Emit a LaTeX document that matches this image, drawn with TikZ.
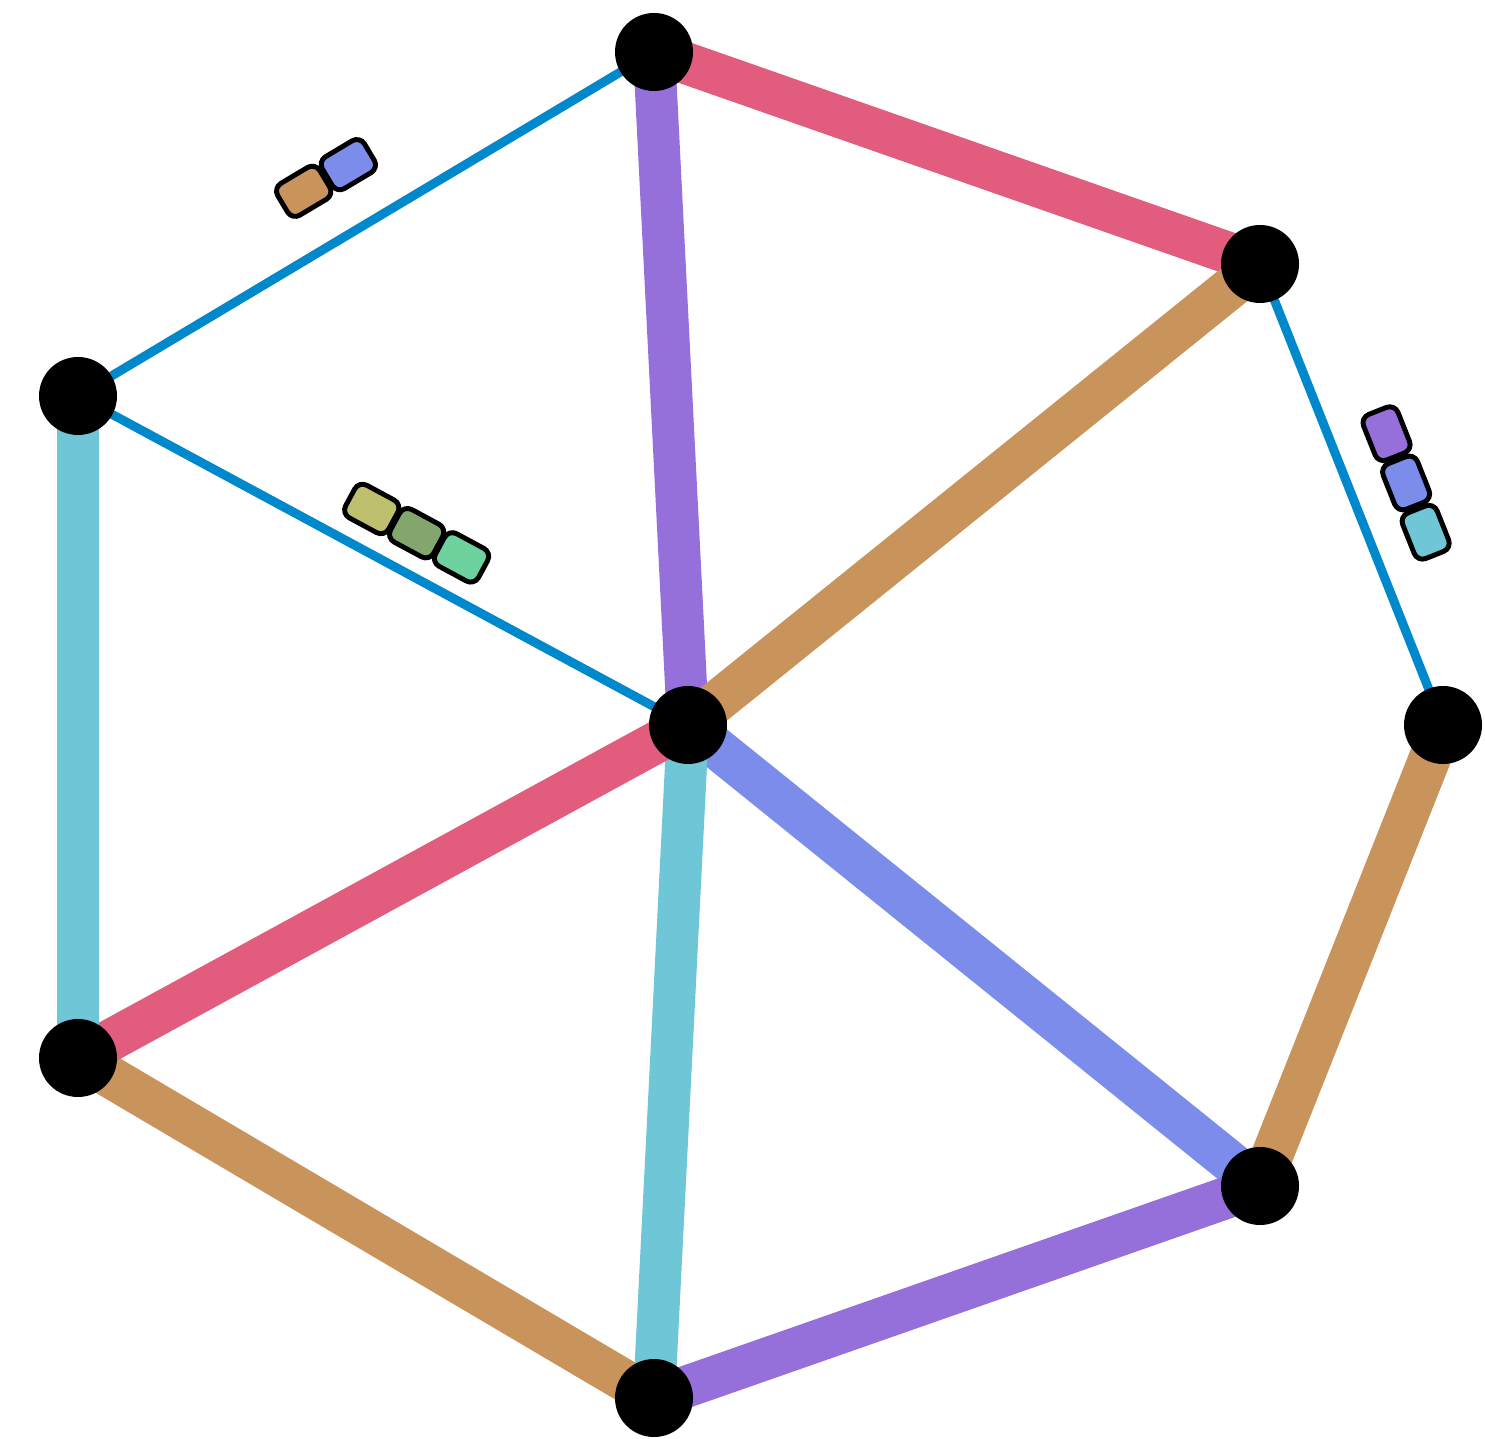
\documentclass[tikz,border=0pt]{standalone}
\usepackage{tikz}
\usetikzlibrary{backgrounds}
\definecolor{edgepink}{HTML}{E25C7D}
\definecolor{edgepurple}{HTML}{9570DB}
\definecolor{edgecyan}{HTML}{6EC6D6}
\definecolor{edgetan}{HTML}{C9945C}
\definecolor{edgeperi}{HTML}{7B8CEA}
\definecolor{linkblue}{HTML}{0088CC}
\definecolor{tagolive}{HTML}{BFC06E}
\definecolor{tagsage}{HTML}{82A66E}
\definecolor{tagmint}{HTML}{6ED29F}

\begin{document}
\begin{tikzpicture}[
  vertex/.style={circle,fill=black,inner sep=0pt,minimum size=0.78cm},
  heavy/.style={line width=0.42cm},
  light/.style={linkblue,line width=0.09cm},
  tag/.style={draw=black,line width=1.4pt,fill=#1,rounded corners=0.09cm,
    minimum width=0.49cm,minimum height=0.37cm,inner sep=0pt,sloped},
]
\useasboundingbox (0,0) rectangle (14.85,14.38);
% vertices
\node[vertex] (A) at (6.54,13.86) {};
\node[vertex] (B) at (12.60,11.74) {};
\node[vertex] (C) at (14.43,7.13) {};
\node[vertex] (D) at (12.60,2.52) {};
\node[vertex] (E) at (6.54,0.40) {};
\node[vertex] (F) at (0.78,3.80) {};
\node[vertex] (G) at (0.78,10.42) {};
\node[vertex] (H) at (6.88,7.13) {};

\begin{scope}[on background layer]
% heavy edges
\draw[heavy,edgepink] (A.center) -- (B.center);
\draw[heavy,edgepurple] (A.center) -- (H.center);
\draw[heavy,edgetan] (B.center) -- (H.center);
\draw[heavy,edgetan] (C.center) -- (D.center);
\draw[heavy,edgeperi] (D.center) -- (H.center);
\draw[heavy,edgepurple] (D.center) -- (E.center);
\draw[heavy,edgecyan] (E.center) -- (H.center);
\draw[heavy,edgetan] (E.center) -- (F.center);
\draw[heavy,edgepink] (F.center) -- (H.center);
\draw[heavy,edgecyan] (G.center) -- (F.center);
% light edges with their tags
\draw[light] (G.center) -- (A.center)
  node[tag=edgetan,pos=0.484,yshift=0.60cm,xshift=-0.26cm] (ga1) {}
  node[tag=edgeperi,pos=0.484,yshift=0.60cm,xshift=0.26cm] (ga2) {};
\draw[light] (G.center) -- (H.center)
  node[tag=tagolive,pos=0.524,yshift=0.40cm,xshift=-0.51cm] (gh1) {}
  node[tag=tagsage,pos=0.524,yshift=0.40cm] (gh2) {}
  node[tag=tagmint,pos=0.524,yshift=0.40cm,xshift=0.51cm] (gh3) {};
\draw[light] (B.center) -- (C.center)
  node[tag=edgepurple,pos=0.519,yshift=0.55cm,xshift=-0.53cm] (bc1) {}
  node[tag=edgeperi,pos=0.519,yshift=0.55cm] (bc2) {}
  node[tag=edgecyan,pos=0.519,yshift=0.55cm,xshift=0.53cm] (bc3) {};
\end{scope}
\end{tikzpicture}
\end{document}
